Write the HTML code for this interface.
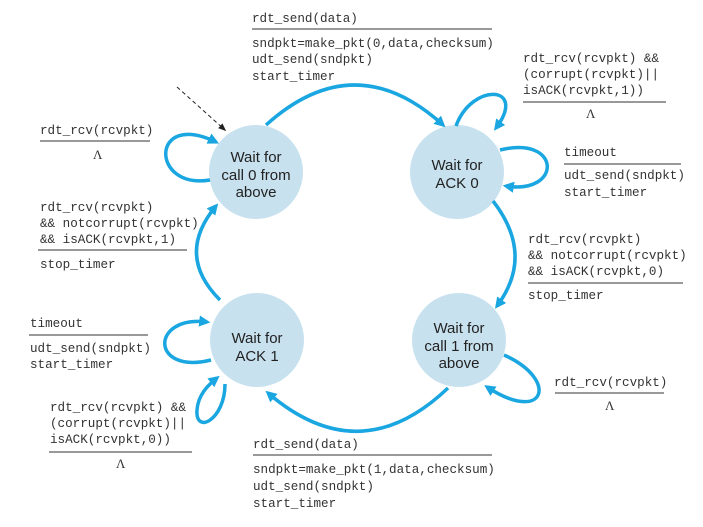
<!DOCTYPE html>
<html><head><style>
html,body{margin:0;padding:0;background:#fff;}
svg text{font-family:"Liberation Mono",monospace;font-size:12.6px;fill:#333;}
svg text.s{font-family:"Liberation Sans",sans-serif;font-size:15px;fill:#222;}
svg text.l{font-family:"Liberation Serif",serif;font-size:13px;}
</style></head><body>
<svg width="703" height="522" viewBox="0 0 703 522" xmlns="http://www.w3.org/2000/svg">
<defs>
<marker id="a" viewBox="0 0 10 10" refX="7" refY="5" markerWidth="3.2" markerHeight="3.2" orient="auto"><path d="M0,0 L10,5 L0,10 z" fill="#1aa6e0"/></marker>
<marker id="k" viewBox="0 0 10 10" refX="8" refY="5" markerWidth="8" markerHeight="8" orient="auto"><path d="M0,1 L10,5 L0,9 z" fill="#222"/></marker>
</defs>
<g fill="#c8e1ef">
<circle cx="256" cy="172" r="47"/>
<circle cx="457" cy="172" r="47"/>
<circle cx="257" cy="340" r="47"/>
<circle cx="459" cy="340" r="47"/>
</g>
<g fill="none" stroke="#1aa6e0" stroke-width="3.5" marker-end="url(#a)">
<path d="M266 125 Q355 45 443 125"/>
<path d="M493 201 Q535 255 497 306"/>
<path d="M448 388 Q360 472 268 393"/>
<path d="M220 300 Q175 255 216 206"/>
<path d="M210 180 C150 190 150 110 216 142"/>
<path d="M456 126 C472 82 528 85 496 128"/>
<path d="M500 150 C562 135 562 195 506 186"/>
<path d="M211 360 C150 375 150 315 207 322"/>
<path d="M225 384 C225 420 195 435 197 410 C198 395 208 385 217 378"/>
<path d="M504 355 C560 380 545 425 487 387"/>
</g>
<line x1="177" y1="87" x2="225" y2="130" stroke="#222" stroke-width="1" stroke-dasharray="4,3" marker-end="url(#k)"/>
<g text-anchor="middle">
<text class="s" x="256" y="162">Wait for</text><text class="s" x="256" y="180">call 0 from</text><text class="s" x="256" y="197">above</text>
<text class="s" x="457" y="170">Wait for</text><text class="s" x="457" y="188">ACK 0</text>
<text class="s" x="257" y="343">Wait for</text><text class="s" x="257" y="361">ACK 1</text>
<text class="s" x="459" y="333">Wait for</text><text class="s" x="459" y="351">call 1 from</text><text class="s" x="459" y="368">above</text>
</g>
<g stroke="#333" stroke-width="1">
<line x1="252" y1="29" x2="492" y2="29"/>
<line x1="40" y1="141" x2="150" y2="141"/>
<line x1="38" y1="250" x2="187" y2="250"/>
<line x1="523" y1="102" x2="666" y2="102"/>
<line x1="564" y1="164" x2="681" y2="164"/>
<line x1="528" y1="283" x2="683" y2="283"/>
<line x1="29" y1="335" x2="148" y2="335"/>
<line x1="49" y1="452" x2="192" y2="452"/>
<line x1="555" y1="393" x2="664" y2="393"/>
<line x1="253" y1="455" x2="492" y2="455"/>
</g>
<text x="252" y="22">rdt_send(data)</text>
<text x="252" y="47">sndpkt=make_pkt(0,data,checksum)</text>
<text x="252" y="63">udt_send(sndpkt)</text>
<text x="252" y="80">start_timer</text>
<text x="40" y="134">rdt_rcv(rcvpkt)</text>
<text class="l" x="93" y="159">Λ</text>
<text x="40" y="211">rdt_rcv(rcvpkt)</text>
<text x="40" y="227">&amp;&amp; notcorrupt(rcvpkt)</text>
<text x="40" y="243">&amp;&amp; isACK(rcvpkt,1)</text>
<text x="40" y="268">stop_timer</text>
<text x="523" y="62">rdt_rcv(rcvpkt) &amp;&amp;</text>
<text x="523" y="78">(corrupt(rcvpkt)||</text>
<text x="523" y="94">isACK(rcvpkt,1))</text>
<text class="l" x="586" y="118">Λ</text>
<text x="564" y="156">timeout</text>
<text x="564" y="179">udt_send(sndpkt)</text>
<text x="564" y="196">start_timer</text>
<text x="528" y="243">rdt_rcv(rcvpkt)</text>
<text x="528" y="259">&amp;&amp; notcorrupt(rcvpkt)</text>
<text x="528" y="275">&amp;&amp; isACK(rcvpkt,0)</text>
<text x="528" y="299">stop_timer</text>
<text x="30" y="327">timeout</text>
<text x="30" y="352">udt_send(sndpkt)</text>
<text x="30" y="368">start_timer</text>
<text x="50" y="411">rdt_rcv(rcvpkt) &amp;&amp;</text>
<text x="50" y="427">(corrupt(rcvpkt)||</text>
<text x="50" y="443">isACK(rcvpkt,0))</text>
<text class="l" x="116" y="468">Λ</text>
<text x="554" y="386">rdt_rcv(rcvpkt)</text>
<text class="l" x="605" y="410">Λ</text>
<text x="253" y="448">rdt_send(data)</text>
<text x="253" y="473">sndpkt=make_pkt(1,data,checksum)</text>
<text x="253" y="490">udt_send(sndpkt)</text>
<text x="253" y="507">start_timer</text>
</svg>
</body></html>
